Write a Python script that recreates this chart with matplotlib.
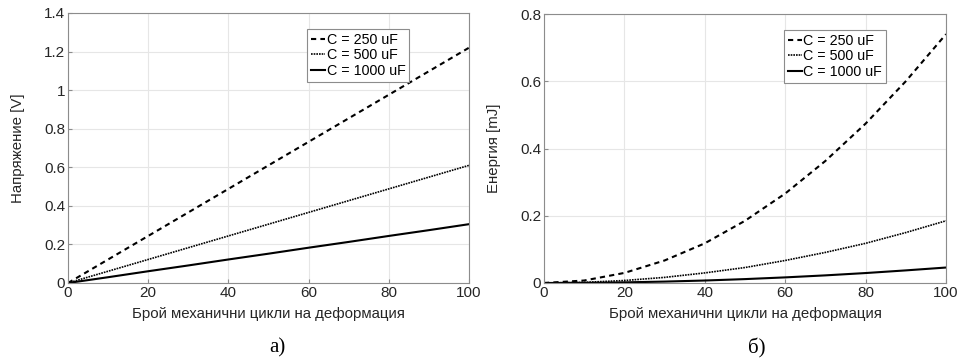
import numpy as np
import matplotlib
matplotlib.use('Agg')
import matplotlib.pyplot as plt
from matplotlib.ticker import FuncFormatter

OUTPUT_PLOT_FILE = 'out.png'

# number of mechanical deformation cycles
cycles = [0, 10, 20, 30, 40, 50, 60, 70, 80, 90, 100]

# voltage [V] read from panel a)
voltage_250 = [0, 0.122, 0.244, 0.366, 0.488, 0.610, 0.732, 0.854, 0.976, 1.098, 1.220]
voltage_500 = [0, 0.061, 0.122, 0.183, 0.244, 0.305, 0.366, 0.427, 0.488, 0.549, 0.610]
voltage_1000 = [0, 0.030, 0.061, 0.091, 0.122, 0.152, 0.183, 0.213, 0.244, 0.274, 0.305]

# energy [mJ] read from panel b)
energy_250 = [0, 0.0074, 0.030, 0.067, 0.118, 0.185, 0.266, 0.363, 0.474, 0.600, 0.740]
energy_500 = [0, 0.0019, 0.0074, 0.0167, 0.030, 0.046, 0.067, 0.091, 0.118, 0.150, 0.185]
energy_1000 = [0, 0.0005, 0.0019, 0.0042, 0.0074, 0.0116, 0.0167, 0.0227, 0.0296, 0.0375, 0.046]

series_labels = ['C = 250 uF', 'C = 500 uF', 'C = 1000 uF']
x_label = 'Брой механични цикли на деформация'

plt.rcParams['font.family'] = ['Liberation Sans', 'DejaVu Sans']


def _style_axes(ax, ymax, ystep):
	""" MATLAB-like look: light grid, gray box, inward ticks. """
	ax.set_xlim(0, 100)
	ax.set_ylim(0, ymax)
	ax.set_xticks(np.arange(0, 101, 20))
	ax.set_yticks(np.arange(0, ymax + 1e-9, ystep))
	ax.yaxis.set_major_formatter(FuncFormatter(lambda v, p: '%g' % round(v, 2)))
	ax.grid(True, color='#e6e6e6', linewidth=0.8)
	ax.set_axisbelow(True)
	for spine in ax.spines.values():
		spine.set_color('#8c8c8c')
		spine.set_linewidth(0.8)
	ax.tick_params(direction='in', length=3, color='#8c8c8c', labelcolor='#262626',
		labelsize=11, pad=2)


def _plot_panel(ax, ys, ymax, ystep, ylabel):
	styles = [(0, (2.5, 2)), (0, (1, 0.6)), '-']
	widths = [1.5, 1.2, 1.5]
	for y, ls, lw, lab in zip(ys, styles, widths, series_labels):
		ax.plot(cycles, y, color='black', linestyle=ls, linewidth=lw, label=lab)
	_style_axes(ax, ymax, ystep)
	ax.set_xlabel(x_label, fontsize=10.8, color='#262626', labelpad=5)
	ax.set_ylabel(ylabel, fontsize=10.8, color='#262626', labelpad=14)
	leg = ax.legend(loc='upper left', bbox_to_anchor=(0.597, 0.94), fontsize=10.3,
		handlelength=1.0, handletextpad=0.1, borderpad=0.25, borderaxespad=0,
		labelspacing=0.12, fancybox=False, framealpha=1)
	leg.get_frame().set_edgecolor('#8c8c8c')
	leg.get_frame().set_linewidth(0.8)


fig = plt.figure(figsize=(9.62, 3.59), dpi=100)
ax1 = fig.add_axes([68 / 962, 1 - 283 / 359, 401 / 962, 270 / 359])
ax2 = fig.add_axes([544 / 962, 1 - 283 / 359, 402 / 962, 269 / 359])

_plot_panel(ax1, [voltage_250, voltage_500, voltage_1000], 1.4, 0.2, 'Напряжение [V]')
_plot_panel(ax2, [energy_250, energy_500, energy_1000], 0.8, 0.2, 'Енергия [mJ]')

fig.text(277 / 962, 1 - 348 / 359, 'а)', ha='center', va='center', fontsize=15,
	family=['Liberation Serif', 'DejaVu Serif'])
fig.text(757 / 962, 1 - 348 / 359, 'б)', ha='center', va='center', fontsize=15,
	family=['Liberation Serif', 'DejaVu Serif'])

fig.savefig(OUTPUT_PLOT_FILE, dpi=100)
